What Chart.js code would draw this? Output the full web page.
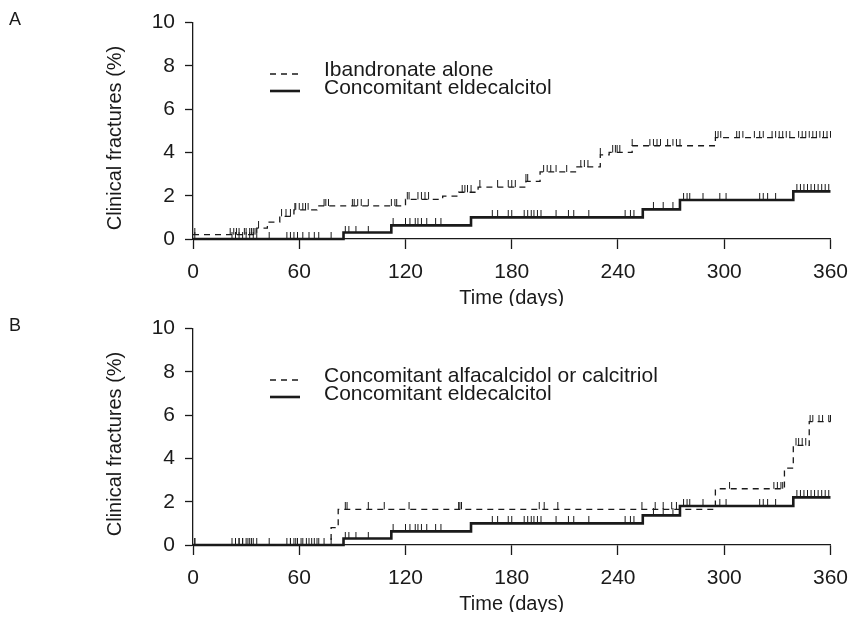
<!DOCTYPE html>
<html>
<head>
<meta charset="utf-8">
<script src="https://cdn.jsdelivr.net/npm/chart.js@4.4.1/dist/chart.umd.min.js"></script>
<style>
  html, body { margin: 0; padding: 0; background: #fff; }
  #wrap { position: relative; width: 859px; height: 617px; }
  canvas { position: absolute; left: 0; }
</style>
</head>
<body>
<div id="wrap">
  <canvas id="chartA" width="859" height="306" style="top:0"></canvas>
  <canvas id="chartB" width="859" height="306" style="top:306px"></canvas>
</div>
<script>
// axis ticks
const xTicks = [0, 60, 120, 180, 240, 300, 360];
const yTicks = [0, 2, 4, 6, 8, 10];

// panel A - ibandronate alone (step times in days, cumulative %)
const ibanTimes  = [0, 36, 42, 49, 57, 70, 120, 141, 150, 161, 188, 196, 216, 230, 235, 248, 295, 360];
const ibanValues = [0.2, 0.5, 0.78, 1.05, 1.35, 1.53, 1.83, 1.98, 2.16, 2.4, 2.66, 3.1, 3.33, 3.89, 4.0, 4.31, 4.68, 4.68];
const ibanCensor = [1, 21, 23, 24.5, 26, 29, 30, 32, 33, 34, 35, 37, 50, 52.5, 55, 57.5, 58, 60, 62, 63.5, 65,
  74, 75, 76.5, 90, 91, 93, 95, 99, 112, 114, 115, 121, 122, 127, 129, 131, 133, 152, 153.5, 155, 157,
  162, 172, 178, 180, 182, 188, 189, 198, 200, 202, 205, 211, 219, 221, 223, 230, 237, 238.5, 239.5, 241,
  248, 258, 260, 262, 264, 268, 271, 273, 275, 295, 296.5, 298, 307, 308.5, 310.5, 317, 320, 322,
  327, 329, 331, 333, 335, 337, 342, 344, 346, 348, 350, 352, 354, 356, 358, 360];

// concomitant eldecalcitol (same group in A and B)
const eldeTimes  = [0, 85, 112, 157, 254, 275, 339, 360];
const eldeValues = [0, 0.3, 0.63, 1.0, 1.37, 1.8, 2.2, 2.2];
const eldeCensor = [1, 22, 24, 26, 28, 30, 32, 34, 36, 43, 53, 55, 57, 59, 62, 65.5, 68.5, 71, 78,
  86, 88, 92, 99, 113, 120, 122.5, 125.5, 127, 129, 132, 137, 140, 169, 172, 178, 180, 187, 189, 191,
  192.5, 194.5, 196.5, 205, 212, 215, 223.5, 244, 247, 249, 260, 265.5, 271, 277, 279, 280.5, 288,
  297.5, 301, 320, 322, 324.5, 329, 341, 343, 345, 347, 349, 351, 353, 355, 357, 359];

// panel B - concomitant alfacalcidol or calcitriol
const alfaTimes  = [0, 78, 82, 295, 334, 339, 348, 360];
const alfaValues = [0, 0.8, 1.65, 2.6, 3.55, 4.6, 5.7, 5.7];
const alfaCensor = [1, 24, 26, 28, 31, 33, 55, 58, 61, 64, 67, 70, 74, 86, 87, 99, 108, 122, 150, 150.7,
  151.6, 195.5, 198.3, 206, 253.5, 261, 265.5, 270.3, 273, 303, 328, 330, 332, 333, 340.5, 342, 344, 346,
  348.5, 350, 353.5, 355.5, 359, 360];

const FONT = "'Liberation Sans', Arial, sans-serif";
const INK = '#1a1a1a';

function stepAt(times, values, t) {
  let v = values[0];
  for (let i = 0; i < times.length; i++) if (times[i] <= t) v = values[i];
  return v;
}
function curve(times, values) {
  return times.map((t, i) => ({ x: t, y: values[i] }));
}
function marks(times, values, censor) {
  return censor.map(t => ({ x: t, y: stepAt(times, values, t) }));
}
// censor tick: a short vertical stroke rising from the curve
function tickMark(h) {
  const c = document.createElement('canvas');
  c.width = 3; c.height = h * 2;
  const g = c.getContext('2d');
  g.fillStyle = INK;
  g.fillRect(1, 0, 1, h);
  return c;
}
const tick = tickMark(7);

const extras = {
  id: 'extras',
  afterDraw(chart, args, opts) {
    const ctx = chart.ctx;
    const left = chart.chartArea.left;
    ctx.save();
    ctx.fillStyle = INK;
    // panel letter
    ctx.font = '18px ' + FONT;
    ctx.textAlign = 'left';
    ctx.textBaseline = 'middle';
    ctx.fillText(opts.letter, 9, 20);
    // y title
    ctx.translate(115, 138);
    ctx.rotate(-Math.PI / 2);
    ctx.font = '20px ' + FONT;
    ctx.textAlign = 'center';
    ctx.fillText('Clinical fractures (%)', 0, 0);
    ctx.restore();
    // legend
    const lines = chart.data.datasets.filter(d => d.label);
    const sampleY = [74, 91];
    const textY = [76, 94];
    ctx.save();
    lines.forEach((d, i) => {
      ctx.strokeStyle = INK;
      ctx.lineWidth = d.borderWidth;
      ctx.setLineDash(d.borderDash || []);
      ctx.beginPath();
      ctx.moveTo(left + 77, sampleY[i]);
      ctx.lineTo(left + 107, sampleY[i]);
      ctx.stroke();
      ctx.setLineDash([]);
      ctx.fillStyle = INK;
      ctx.font = '21px ' + FONT;
      ctx.textAlign = 'left';
      ctx.textBaseline = 'alphabetic';
      ctx.fillText(d.label, left + 131, textY[i]);
    });
    ctx.restore();
  }
};

function makeChart(id, letter, dashLabel, dashTimes, dashValues, dashCensor) {
  return new Chart(document.getElementById(id), {
    type: 'line',
    data: {
      datasets: [
        { label: dashLabel, data: curve(dashTimes, dashValues), stepped: 'before',
          borderColor: INK, borderWidth: 1.3, borderDash: [6, 5], pointRadius: 0, fill: false, clip: false },
        { label: 'Concomitant eldecalcitol', data: curve(eldeTimes, eldeValues), stepped: 'before',
          borderColor: INK, borderWidth: 2.6, pointRadius: 0, fill: false, clip: false },
        { data: marks(dashTimes, dashValues, dashCensor), showLine: false,
          pointStyle: tick, pointRadius: 3, clip: false },
        { data: marks(eldeTimes, eldeValues, eldeCensor), showLine: false,
          pointStyle: tick, pointRadius: 3, clip: false }
      ]
    },
    options: {
      responsive: false,
      animation: false,
      events: [],
      layout: { padding: { top: 17, right: 24, left: 0, bottom: 0 } },
      plugins: { legend: { display: false }, tooltip: { enabled: false }, extras: { letter: letter } },
      scales: {
        x: {
          type: 'linear', min: 0, max: 360,
          afterBuildTicks: s => { s.ticks = xTicks.map(v => ({ value: v })); },
          ticks: { color: INK, font: { size: 21, family: FONT }, padding: 11, maxRotation: 0 },
          grid: { drawOnChartArea: false, tickLength: 10, tickColor: INK, tickWidth: 1.3 },
          border: { color: INK, width: 1.3 },
          title: { display: true, text: 'Time (days)', color: INK, font: { size: 20, family: FONT },
                   padding: { top: 0, bottom: -4 } },
          afterFit: s => { s.height = 67; }
        },
        y: {
          min: 0, max: 10,
          afterBuildTicks: s => { s.ticks = yTicks.map(v => ({ value: v })); },
          ticks: { color: INK, font: { size: 21, family: FONT }, padding: 10 },
          grid: { drawOnChartArea: false, tickLength: 8, tickColor: INK, tickWidth: 1.3 },
          border: { color: INK, width: 1.3 },
          afterFit: s => { s.width = 193; }
        }
      }
    },
    plugins: [extras]
  });
}

makeChart('chartA', 'A', 'Ibandronate alone', ibanTimes, ibanValues, ibanCensor);
makeChart('chartB', 'B', 'Concomitant alfacalcidol or calcitriol', alfaTimes, alfaValues, alfaCensor);
</script>
</body>
</html>
